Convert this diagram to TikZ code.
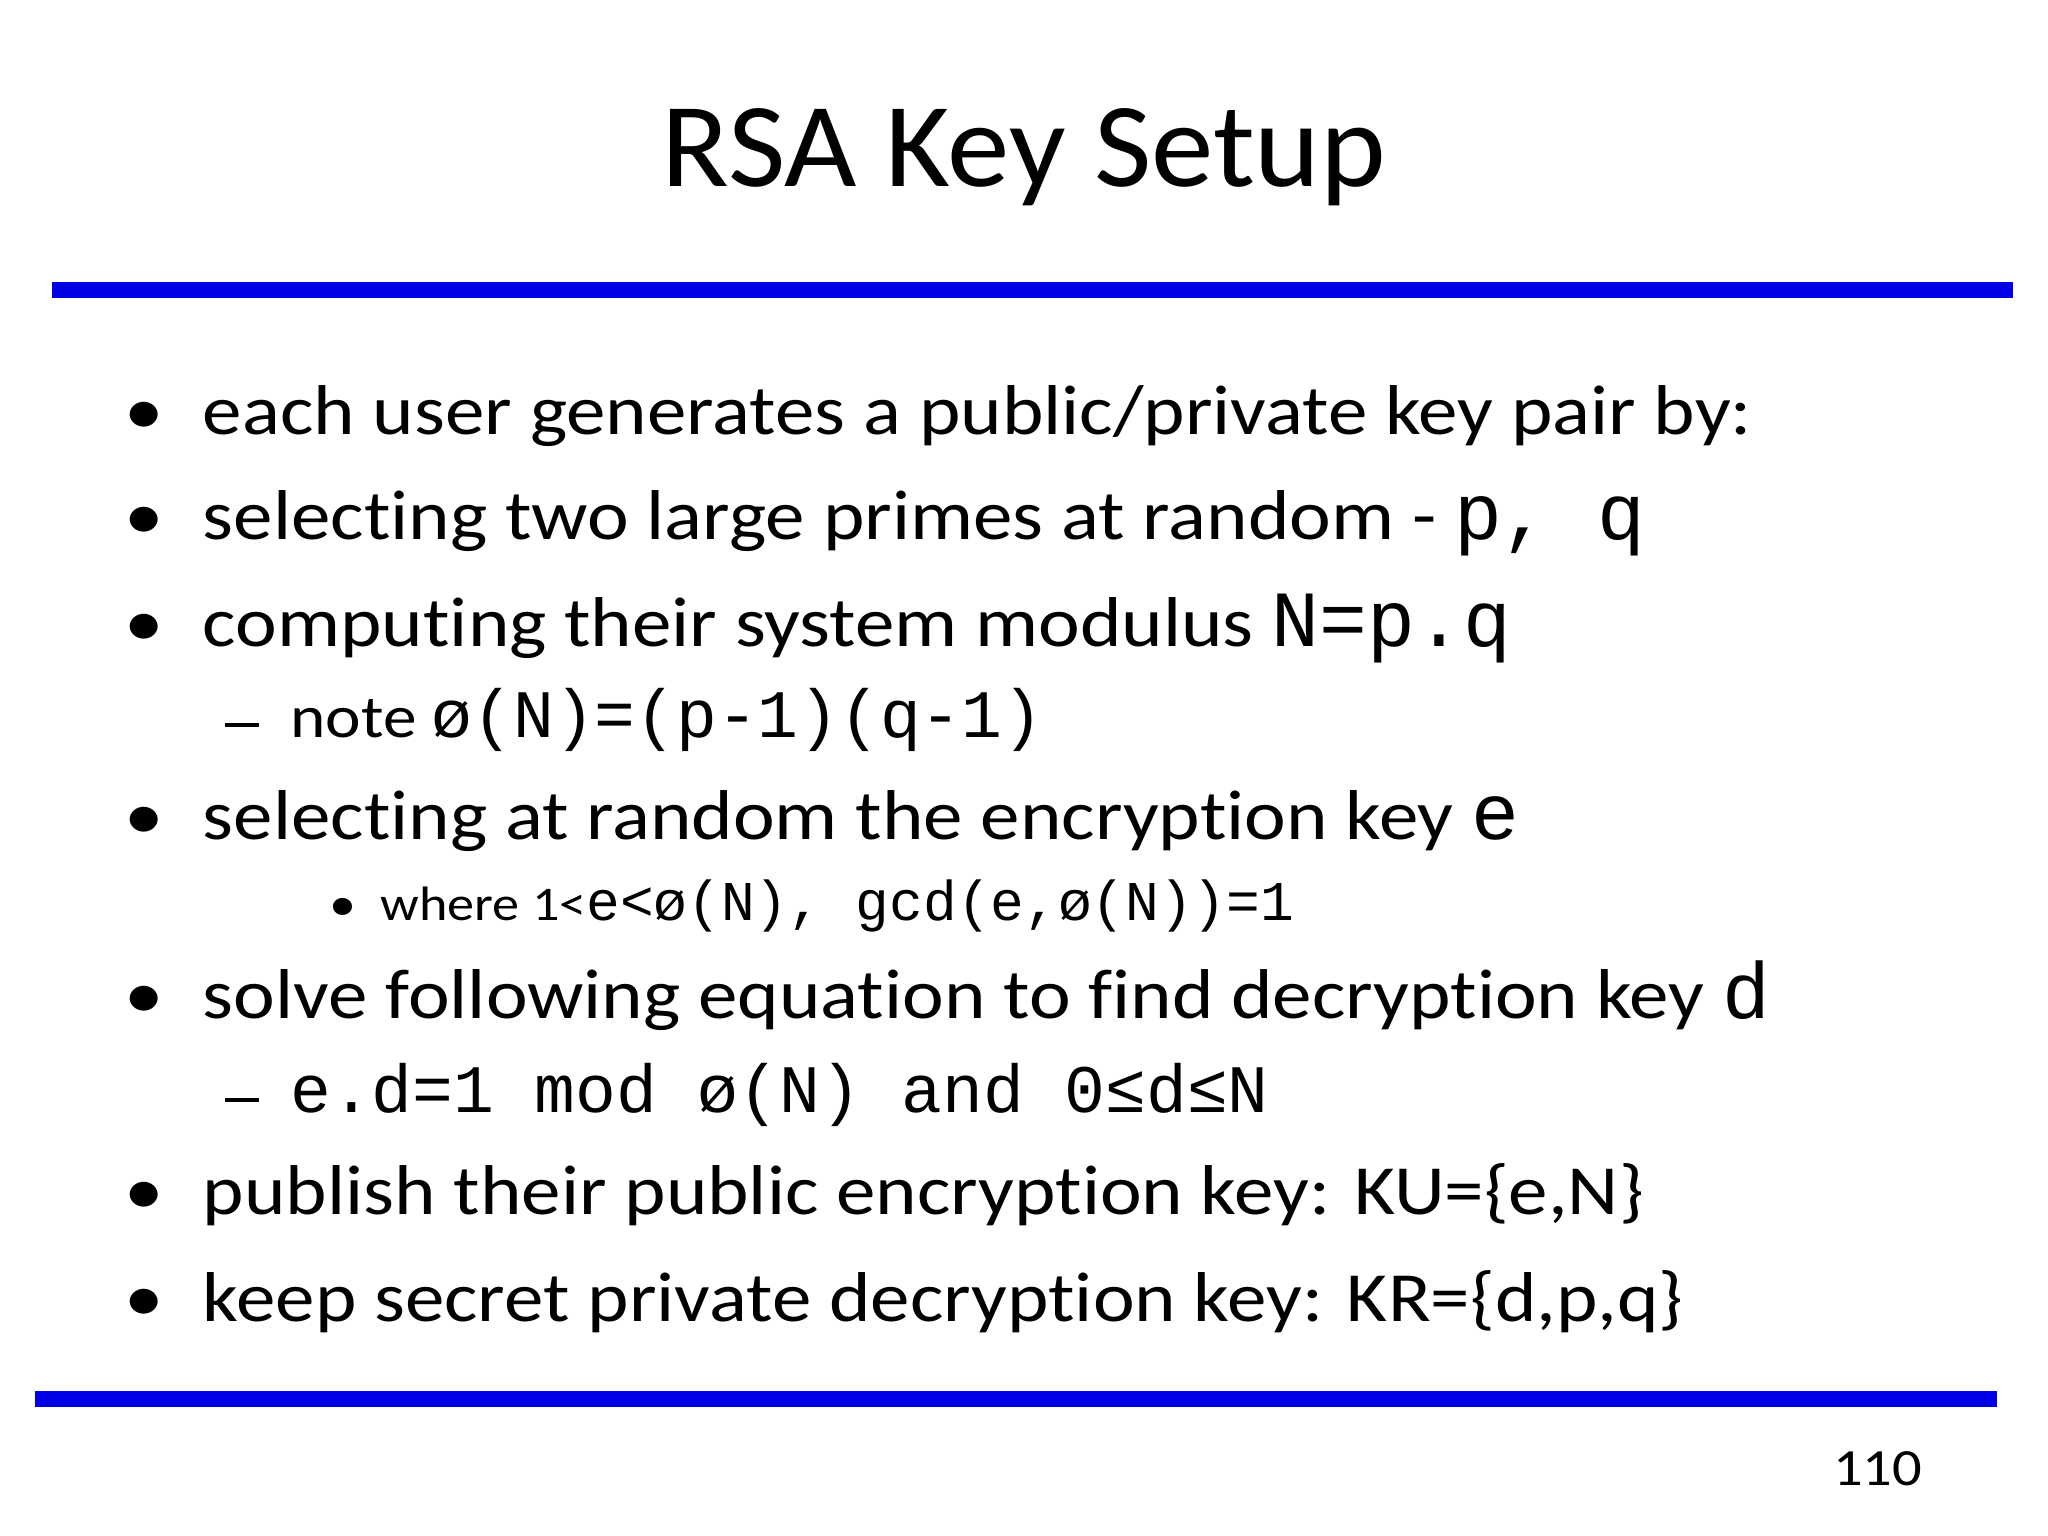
\documentclass[tikz,border=0pt]{standalone}
\usepackage{fontspec}
\setmainfont{Carlito}[FakeStretch=1.12,Ligatures=NoCommon,Numbers=Lining]
\newfontfamily\cour{Liberation Mono}
\newfontfamily\titlefont{Carlito}[FakeStretch=1.04,Ligatures=NoCommon]
\begin{document}
\begin{tikzpicture}[x=0.5pt,y=-0.5pt,
  t/.style={anchor=base west,inner sep=0pt,font=\fontsize{27}{30}\selectfont},
  s/.style={anchor=base west,inner sep=0pt,font=\fontsize{23}{26}\selectfont},
  ss/.style={anchor=base west,inner sep=0pt,font=\fontsize{18.5}{22}\selectfont},
  bar/.style={draw=blue!90!black,line width=6pt}]
\useasboundingbox (0,0) rectangle (1568,1176);
\node[inner sep=0pt,anchor=base,font=\titlefont\fontsize{46}{50}\selectfont] (title) at (784,143) {RSA Key Setup};
\coordinate (a1) at (40,222); \coordinate (a2) at (1541,222);
\coordinate (b1) at (27,1071); \coordinate (b2) at (1529,1071);
\draw[bar] (a1) -- (a2);
\draw[bar] (b1) -- (b2);
\foreach \y/\n in {333/1,413/2,495/3,643/5,780/7,930/9,1012/10}
  \node[t] (d\n) at (95,\y) {•};
\newcommand\mA{\cour\fontsize{30.5}{32}\selectfont}
\newcommand\mB{\cour\fontsize{26}{28}\selectfont}
\newcommand\mC{\cour\fontsize{21.5}{24}\selectfont}
\newcommand\longdash{\rule[4.2pt]{13pt}{1.4pt}}
\node[t] (l1) at (155,333) {each user generates a public/private key pair by:};
\node[t] (l2) at (155,413) {selecting two large primes at random - {\mA p, q}};
\node[t] (l3) at (155,495) {computing their system modulus {\mA N=p.q}};
\node[s] (dn) at (172,565) {\longdash};
\node[s] (l4) at (222,565) {note {\mB ø(N)=(p-1)(q-1)}};
\node[t] (l5) at (155,643) {selecting at random the encryption key {\mA e}};
\node[ss] (dw) at (252,705) {•};
\node[ss] (l6) at (291,705) {where 1<{\mC e<ø(N), gcd(e,ø(N))=1}};
\node[t] (l7) at (155,780) {solve following equation to find decryption key {\mA d}};
\node[s] (de) at (172,852) {\longdash};
\node[s] (l8) at (222,852) {\mB e.d=1 mod ø(N) and 0≤d≤N};
\node[t] (l9) at (155,930) {publish their public encryption key: KU=\{e,N\}};
\node[t] (l10) at (155,1012) {keep secret private decryption key: KR=\{d,p,q\}};
\node[anchor=base east,inner sep=0pt,font=\fontsize{20}{24}\selectfont] (pg) at (1472,1137) {110};
\end{tikzpicture}
\end{document}
